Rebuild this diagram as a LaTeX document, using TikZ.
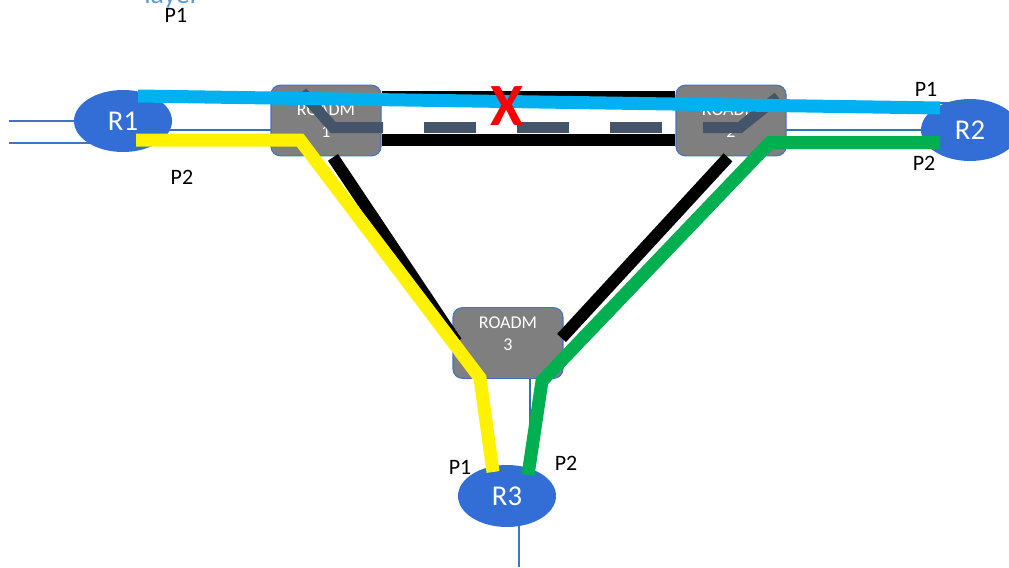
\documentclass[tikz,border=0pt]{standalone}
\usepackage{fontspec}
\setmainfont{Carlito}
\usetikzlibrary{shapes.geometric,positioning,backgrounds}
\definecolor{RouterBlue}{RGB}{50,110,214}
\definecolor{BoxGray}{RGB}{127,127,127}
\definecolor{EdgeBlue}{RGB}{68,114,196}
\definecolor{LinkBlue}{RGB}{46,117,182}
\definecolor{Slate}{RGB}{68,84,106}
\definecolor{PathCyan}{RGB}{0,176,240}
\definecolor{PathGreen}{RGB}{0,176,80}
\definecolor{LayerBlue}{RGB}{91,155,213}

\begin{document}
\begin{tikzpicture}[x=0.75pt,y=-0.75pt,
  router/.style={ellipse,fill=RouterBlue,text=white,minimum width=73.5pt,minimum height=46.5pt,inner sep=0pt,font=\fontsize{21.5}{21.5}\selectfont},
  roadm/.style={draw=EdgeBlue,line width=0.8pt,fill=BoxGray,rounded corners=7pt,minimum width=82.5pt,minimum height=53pt,inner sep=0pt,text=white,align=center,font=\fontsize{13.5}{16.5}\selectfont},
  fiber/.style={line width=9pt},
  lightpath/.style={line width=9.75pt},
  switch/.style={Slate,line width=8.25pt},
  link/.style={LinkBlue,line width=1pt},
  feed/.style={EdgeBlue,line width=0.9pt},
  plabel/.style={font=\fontsize{16.5}{16.5}\selectfont}]
\useasboundingbox (0,0) rectangle (1009,567);
\clip (0,0) rectangle (1009,567);

\node[roadm] (roadm1) at (326,120.5) {ROADM\\1};
\node[roadm] (roadm2) at (731,120.5) {ROADM\\2};
\node[roadm] (roadm3) at (508,343) {};
\node[text=white,align=center,font=\fontsize{13.5}{16.5}\selectfont] (roadm3text) at (508,334) {ROADM\\3};

% fibre ring
\draw[fiber] ([yshift=17.6pt]roadm1.east) -- ([yshift=17.6pt]roadm2.west);
\draw[fiber] ([yshift=-14.6pt]roadm1.east) -- ([yshift=-14.6pt]roadm2.west);
\draw[fiber] ([xshift=5.25pt,yshift=-0.75pt]roadm1.south) -- ([xshift=3pt,yshift=0.75pt]roadm3.west);
\draw[fiber] ([xshift=-2.25pt,yshift=-0.75pt]roadm2.south) -- ([xshift=-1.5pt,yshift=3.75pt]roadm3.east);

% wavelength switches
\draw[switch] (302,92) -- (333,127.5) -- (383,127.5);
\draw[switch] (703,127.5) -- (740,127.5) -- (778,97);
\draw[switch,dash pattern=on 39pt off 30.75pt] (424,127.5) -- (663,127.5);

\node[router] (R1) at (123,121) {R1};
\node[router] (R2) at (970,130) {R2};
\node[router] (R3) at (507,496) {R3};
\draw[link] ([shift={(-33,-27)}]R2.center) -- ([shift={(0,-27)}]R2.center);

\coordinate (in1) at (9,121);
\coordinate (in2) at (9,143);
\coordinate (tap1) at (0,130);
\coordinate (tap3) at (530,0);
\coordinate (out3) at (519,567);

% access links, under the nodes
\begin{scope}[on background layer]
\draw[feed] (in1) -- (R1.center |- in1);
\draw[feed] (in2) -- (R1.center |- in2);
\draw[link] (R1.center |- tap1) -- (roadm1.center |- tap1);
\draw[link] (roadm2.center |- R2.center) -- (R2.center);
\draw[link] (tap3 |- roadm3.center) -- (tap3 |- R3.center);
\draw[feed] (out3 |- R3.center) -- (out3);
\end{scope}

% protected lightpaths
\draw[lightpath,yellow] ([shift={(13,19)}]R1.center) -- (300,140) -- (480,378) -- ([shift={(-14,-24)}]R3.center);
\draw[lightpath,PathGreen] ([shift={(-30,12.5)}]R2.center) -- (770,142.5) -- (542,381) -- ([shift={(21,-21)}]R3.center);
\draw[lightpath,PathCyan] ([shift={(15,-25)}]R1.center) -- ([shift={(-30,-22)}]R2.center);

\node[text=red,font=\fontsize{45}{45}\selectfont\bfseries] (cut) at (507,106) {X};

\node[text=LayerBlue,font=\fontsize{21}{21}\selectfont,anchor=base] (layer) at (172,4) {layer};
\node[plabel] (p1a) at (176,15) {P1};
\node[plabel] (p2a) at (182,177) {P2};
\node[plabel] (p1b) at (926,89) {P1};
\node[plabel] (p2b) at (924,163) {P2};
\node[plabel] (p1c) at (460,467) {P1};
\node[plabel] (p2c) at (566,463) {P2};
\end{tikzpicture}
\end{document}
